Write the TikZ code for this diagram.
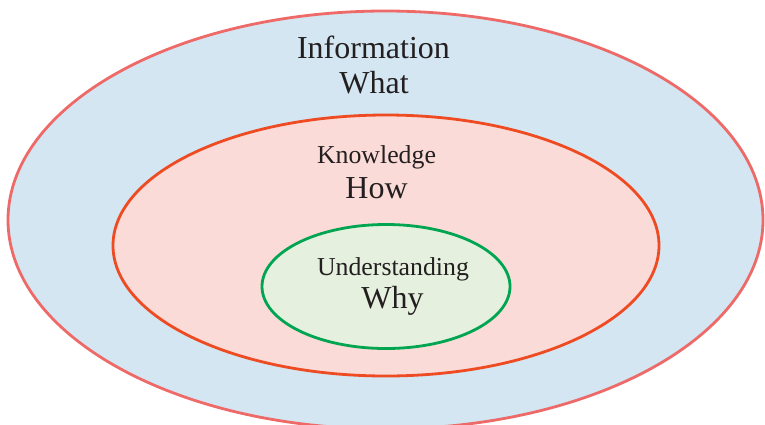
\documentclass[tikz,border=0pt]{standalone}
\usepackage{fontspec}
\setmainfont{Liberation Serif}
\usetikzlibrary{shapes.geometric}
\definecolor{txt}{HTML}{231F20}
\definecolor{outerfill}{HTML}{D3E6F1}
\definecolor{outerline}{HTML}{EE6A68}
\definecolor{midfill}{HTML}{FADBD8}
\definecolor{midline}{HTML}{EE4B23}
\definecolor{innfill}{HTML}{E6F0DF}
\definecolor{innline}{HTML}{00A551}
\tikzset{
  ring/.style={ellipse, inner sep=0pt, line width=2.8pt},
  big/.style={font=\fontsize{32}{32}\selectfont, text=txt, anchor=base, inner sep=0pt},
  small/.style={font=\fontsize{25.8}{25.8}\selectfont, text=txt, anchor=base, inner sep=0pt}
}
\begin{document}
\begin{tikzpicture}[x=1pt,y=-1pt]
\useasboundingbox (0,0) rectangle (765,424);
\clip (0,0) rectangle (765,424);
\node[ring, draw=outerline, fill=outerfill, minimum width=755pt, minimum height=418pt] (info) at (385.5,220) {};
\node[ring, draw=midline, fill=midfill, minimum width=546pt, minimum height=261pt] (know) at (386,245.5) {};
\node[ring, draw=innline, fill=innfill, minimum width=248pt, minimum height=124pt] (under) at (386,286.5) {};
\node[big] (t1) at (373.5,58.3) {Information};
\node[big] (t2) at (374,93) {What};
\node[small] (t3) at (376.5,163) {Knowledge};
\node[big] (t4) at (376.5,198) {How};
\node[small] (t5) at (393,275) {Understanding};
\node[big] (t6) at (392.5,308) {Why};
\end{tikzpicture}
\end{document}
